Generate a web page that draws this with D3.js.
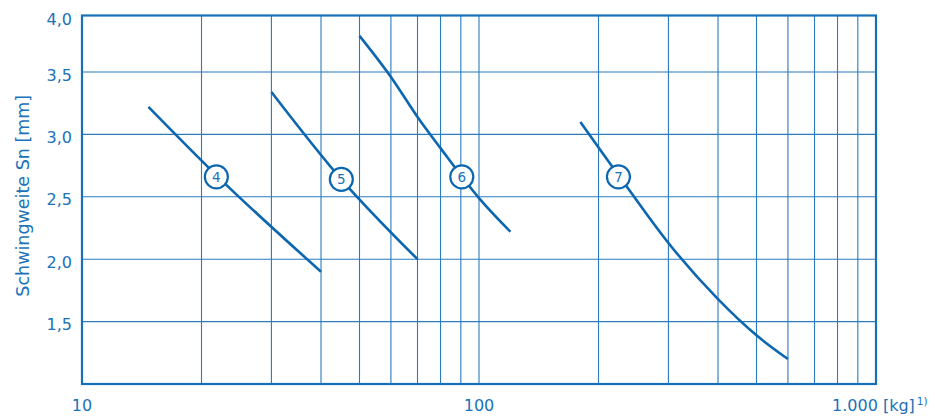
<!DOCTYPE html>
<html>
<head>
<meta charset="utf-8">
<script src="https://cdn.jsdelivr.net/npm/d3@7"></script>
<style>
  body { margin: 0; background: #fff; }
  text { font-family: "DejaVu Sans", sans-serif; fill: #1a72b9; }
</style>
</head>
<body>
<div id="chart-vis"></div>
<script>
// x axis (log, kg)
const xGridValues = [20, 30, 40, 50, 60, 70, 80, 90, 100, 200, 300, 400, 500, 600, 700, 800, 900];
const xTickValues = [10, 100, 1000];
const xTickText = ['10', '100', '1.000'];

// y axis (mm)
const yTickValues = [1.5, 2.0, 2.5, 3.0, 3.5, 4.0];
const yTickText = ['1,5', '2,0', '2,5', '3,0', '3,5', '4,0'];

// curves: [kg, mm]
const curve4 = [[14.7, 3.22], [22, 2.66], [40, 1.90]];
const curve5 = [[30, 3.34], [45, 2.64], [70, 2.0]];
const curve6 = [[50, 3.82], [60, 3.46], [70, 3.14], [80, 2.89], [100, 2.49], [120, 2.22]];
const curve7 = [[180, 3.10], [237, 2.57], [300, 2.13], [400, 1.68], [500, 1.39], [600, 1.20]];
const curves = [curve4, curve5, curve6, curve7];

const markerIds = ['4', '5', '6', '7'];
const markerPos = [[21.8, 2.66], [45, 2.64], [90.5, 2.66], [224.5, 2.66]];

const width = 935;
const height = 419;
const lineColor = '#0d66b0';
const gridColor = '#2a7bbf';

const svg = d3.select('#chart-vis').append('svg')
    .attr('width', width)
    .attr('height', height);

const x = d3.scaleLog()
    .domain([10, 1000])
    .range([82, 876]);

// the printed grid is a bit squeezed at the top
const y = d3.scaleLinear()
    .domain([1.0, 3.5, 4.0])
    .range([384, 72, 15.5]);

const grid = svg.append('g');

grid.selectAll('line.vgrid')
    .data(xGridValues)
    .enter()
    .append('line')
    .attr('class', 'vgrid')
    .attr('x1', d => x(d))
    .attr('x2', d => x(d))
    .attr('y1', y(4.0))
    .attr('y2', y(1.0))
    .style('stroke', gridColor)
    .style('stroke-width', 1.1);

grid.selectAll('line.hgrid')
    .data(yTickValues.filter(d => d < 4))
    .enter()
    .append('line')
    .attr('class', 'hgrid')
    .attr('x1', x(10))
    .attr('x2', x(1000))
    .attr('y1', d => y(d))
    .attr('y2', d => y(d))
    .style('stroke', gridColor)
    .style('stroke-width', 1.1);

// frame
svg.append('rect')
    .attr('x', x(10))
    .attr('y', y(4.0))
    .attr('width', x(1000) - x(10))
    .attr('height', y(1.0) - y(4.0))
    .style('fill', 'none')
    .style('stroke', '#1670b8')
    .style('stroke-width', 2.2);

// y tick labels
svg.selectAll('text.ytick')
    .data(yTickValues)
    .enter()
    .append('text')
    .attr('class', 'ytick')
    .attr('x', 72)
    .attr('y', d => y(d) + (d === 4 ? 9.5 : 8.5))
    .attr('text-anchor', 'end')
    .style('font-size', '16px')
    .text((d, i) => yTickText[i]);

// x tick labels
svg.selectAll('text.xtick')
    .data(xTickValues.slice(0, 2))
    .enter()
    .append('text')
    .attr('class', 'xtick')
    .attr('x', d => x(d))
    .attr('y', 411)
    .attr('text-anchor', 'middle')
    .style('font-size', '16px')
    .text((d, i) => xTickText[i]);

const lastTick = svg.append('text')
    .attr('x', x(1000) - 44)
    .attr('y', 411)
    .style('font-size', '16px');
lastTick.append('tspan').text(`${xTickText[2]} [kg]`);
lastTick.append('tspan')
    .attr('dy', -6)
    .attr('dx', 2)
    .style('font-size', '10.5px')
    .text('1)');

// y axis title
svg.append('text')
    .attr('transform', `translate(29,${(y(4.0) + y(1.0)) / 2 - 4}) rotate(-90)`)
    .attr('text-anchor', 'middle')
    .style('font-size', '17.5px')
    .text('Schwingweite Sn [mm]');

// curves
const line = d3.line()
    .x(d => x(d[0]))
    .y(d => y(d[1]))
    .curve(d3.curveMonotoneX);

svg.selectAll('path.curve')
    .data(curves)
    .enter()
    .append('path')
    .attr('class', 'curve')
    .attr('d', line)
    .style('fill', 'none')
    .style('stroke', lineColor)
    .style('stroke-width', 2.6);

// numbered markers
const markers = svg.selectAll('g.marker')
    .data(markerPos)
    .enter()
    .append('g')
    .attr('class', 'marker')
    .attr('transform', d => `translate(${x(d[0])},${y(d[1])})`);

markers.append('circle')
    .attr('r', 11.5)
    .style('fill', '#fff')
    .style('stroke', lineColor)
    .style('stroke-width', 2.2);

markers.append('text')
    .attr('text-anchor', 'middle')
    .attr('y', 5)
    .style('font-size', '13.5px')
    .text((d, i) => markerIds[i]);
</script>
</body>
</html>
